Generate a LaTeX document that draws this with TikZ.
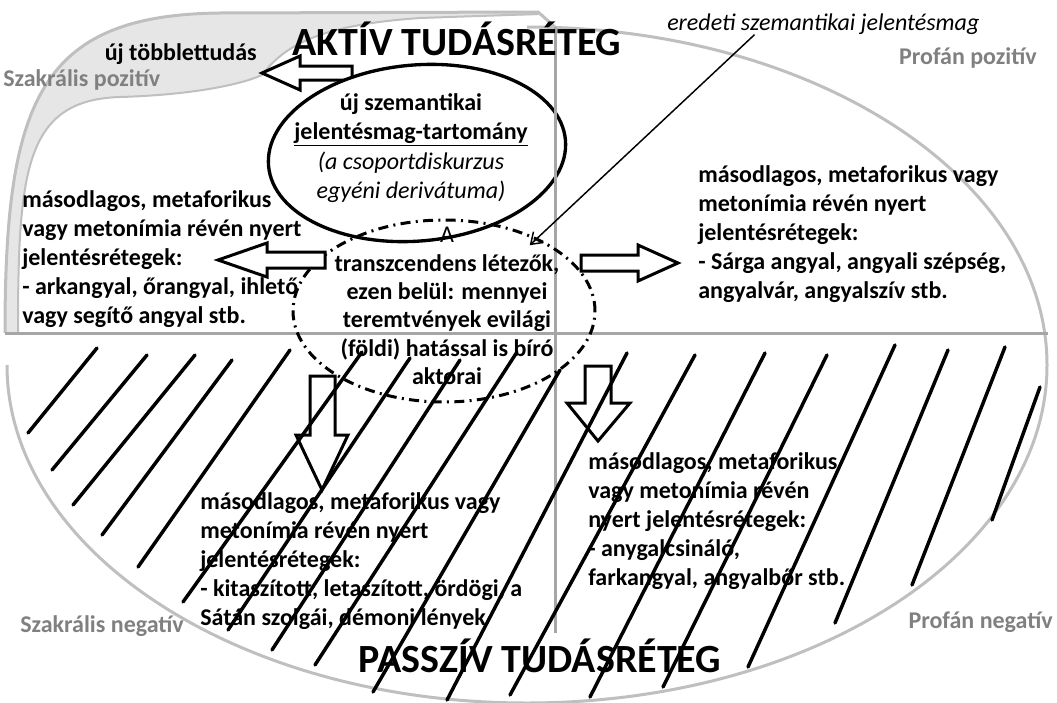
\documentclass[tikz,border=0pt]{standalone}
\usepackage{fontspec}
\setmainfont{Carlito}
\usetikzlibrary{arrows.meta,shapes.geometric,calc}

\definecolor{bandgrey}{HTML}{E6E6E6}
\definecolor{rimgrey}{HTML}{BFBFBF}
\definecolor{axisgrey}{HTML}{A6A6A6}
\definecolor{labelgrey}{HTML}{808080}

\tikzset{
  bodytext/.style={font=\fontsize{18}{21.75}\selectfont\bfseries, inner sep=0pt, align=left, anchor=west},
  cornerlabel/.style={font=\fontsize{18}{21.75}\selectfont\bfseries, text=labelgrey, inner sep=0pt},
  bigtitle/.style={font=\fontsize{30}{36}\selectfont\bfseries, inner sep=0pt, anchor=base},
  blockarrow/.style={draw, fill=white, line width=2.25pt},
  hatch/.style={line width=2.6pt, line cap=round},
  axisline/.style={draw=axisgrey, line width=2.25pt},
  rim/.style={draw=rimgrey, line width=2.25pt},
}

\begin{document}
\begin{tikzpicture}[x=0.75pt,y=-0.75pt]
\useasboundingbox (0,0) rectangle (1057,703);
% sacral positive band
\fill[bandgrey] (5,333) .. controls (5,100) and (40,15) .. (220,13) -- (538,12) -- (545,15)
  -- (420,18) .. controls (320,25) and (285,45) .. (262,75)
  .. controls (240,85) and (190,95) .. (120,97) .. controls (25,100) and (18,170) .. (18,333) -- cycle;
\draw[rim] (5,333) .. controls (5,100) and (40,15) .. (220,13) -- (538,12) -- (555,27);
\draw[rim, line width=1.5pt] (18,333) .. controls (18,170) and (25,100) .. (120,97)
  .. controls (190,95) and (240,85) .. (262,75) .. controls (285,45) and (320,25) .. (420,18) -- (538,14);
% big ellipse, top left quarter hidden
\draw[rim] (527,27) arc[start angle=-90, end angle=180, x radius=520, y radius=338];

% new surplus knowledge
\draw[blockarrow] (352,66) -- (300,66) -- (300,56) -- (262,73) -- (300,90) -- (300,80) -- (352,80) -- cycle;
\node[draw, fill=white, ellipse, rotate=5, line width=2.5pt, minimum width=223.5pt, minimum height=132pt, inner sep=0pt] (mag) at (417,153) {};

% axes
\draw[axisline] (5,333) -- (1048,333);
\draw[axisline] (555,27) -- (555,633);

\node[draw, ellipse, line width=2.25pt, dash pattern=on 7.5pt off 4pt on 1.5pt off 4pt,
  minimum width=226.5pt, minimum height=136.5pt, inner sep=0pt] (lenyek) at (444,311) {};

% block arrows
\draw[blockarrow] (325,252) -- (267,252) -- (267,243) -- (218,260) -- (267,277) -- (267,268) -- (325,268) -- cycle;
\draw[blockarrow] (581,255) -- (638,255) -- (638,245) -- (678,263) -- (638,281) -- (638,271) -- (581,271) -- cycle;
\draw[blockarrow] (310,376) -- (335,376) -- (335,435) -- (348,435) -- (322,490) -- (296,435) -- (310,435) -- cycle;
\draw[blockarrow] (585,366) -- (611,366) -- (611,403) -- (630,403) -- (598,441) -- (567,403) -- (585,403) -- cycle;

% texts
\node[bigtitle] (aktiv) at (457,55) {AKTÍV TUDÁSRÉTEG};
\node[bigtitle] (passziv) at (540,672) {PASSZÍV TUDÁSRÉTEG};
\node[cornerlabel, anchor=west] (szakpoz) at (3,80) {Szakrális pozitív};
\node[cornerlabel, anchor=east] (profpoz) at (1037,58) {Profán pozitív};
\node[cornerlabel, anchor=west] (szakneg) at (20,626) {Szakrális negatív};
\node[cornerlabel, anchor=east] (profneg) at (1053,622) {Profán negatív};
\node[font=\fontsize{18}{21.75}\selectfont\bfseries, inner sep=0pt, anchor=east] (tobblet) at (257,54) {új többlettudás};
\node[font=\fontsize{18}{21.75}\selectfont\itshape, inner sep=0pt, anchor=west] (eredeti) at (667,24) {eredeti szemantikai jelentésmag};

\node[align=center, inner sep=0pt, font=\fontsize{18}{22}\selectfont] (magtext) at (411,148)
  {\textbf{új szemantikai}\\\textbf{\underline{jelentésmag-tartomány}}\\\textit{(a csoportdiskurzus}\\\textit{egyéni derivátuma)}};
\node[align=center, inner sep=0pt, font=\fontsize{18}{21.3}\selectfont\bfseries] (lenyektext) at (447,306)
  {\textmd{A}\\transzcendens létezők,\\ezen belül: mennyei\\teremtvények evilági\\(földi) hatással is bíró\\aktorai};

\node[bodytext] (bal) at (22,259) {másodlagos, metaforikus\\vagy metonímia révén nyert\\jelentésrétegek:\\- arkangyal, őrangyal, ihlető\\vagy segítő angyal stb.};
\node[bodytext] (jobb) at (698,234) {másodlagos, metaforikus vagy\\metonímia révén nyert\\jelentésrétegek:\\- Sárga angyal, angyali szépség,\\angyalvár, angyalszív stb.};
\node[bodytext] (lentbal) at (200,561) {másodlagos, metaforikus vagy\\metonímia révén nyert\\jelentésrétegek:\\- kitaszított, letaszított, ördögi, a\\Sátán szolgái, démoni lények};
\node[bodytext] (lentjobb) at (588,521) {másodlagos, metaforikus\\vagy metonímia révén\\nyert jelentésrétegek:\\- anygalcsináló,\\farkangyal, angyalbőr stb.};

% pointer to the original core
\draw[line width=1.1pt, -{Straight Barb[length=8pt,width=11pt]}, shorten >=-8pt]
  ($(eredeti.south west)!0.28!(eredeti.south east)$) -- (lenyek.38);

% hatching of the passive layer
\foreach \xa/\ya/\xb/\yb in {28/433/97/348, 52/470/147/355, 73/505/195/355, 102/535/232/360,
    138/567/290/350, 183/602/362/352, 228/630/410/358, 272/650/460/360, 315/665/517/352,
    373/692/560/370, 447/700/627/353, 510/695/695/355, 590/697/765/353, 663/687/827/355,
    748/667/895/345, 835/623/948/350, 912/585/1005/347, 992/520/1040/387}
  \draw[hatch] (\xa,\ya) -- (\xb,\yb);
\end{tikzpicture}
\end{document}
